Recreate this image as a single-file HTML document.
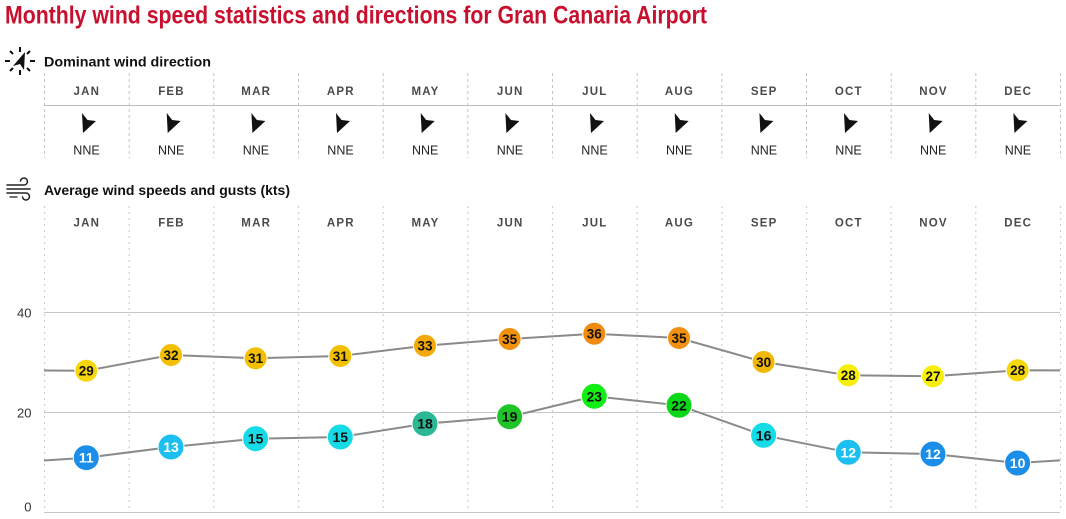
<!DOCTYPE html>
<html>
<head>
<meta charset="utf-8">
<style>
html,body{margin:0;padding:0;background:#fff;}
svg{display:block;}
text{font-family:"Liberation Sans",Arial,sans-serif;}
</style>
</head>
<body>
<svg width="1066" height="519" viewBox="0 0 1066 519" xmlns="http://www.w3.org/2000/svg">
<!-- Title -->
<text x="5" y="23.5" font-size="25" font-weight="bold" fill="#c8102e" textLength="702" lengthAdjust="spacingAndGlyphs">Monthly wind speed statistics and directions for Gran Canaria Airport</text>

<!-- compass icon -->
<g stroke="#111" stroke-width="2" stroke-linecap="butt">
<line x1="20" y1="47" x2="20" y2="52"/>
<line x1="20" y1="70" x2="20" y2="75"/>
<line x1="5" y1="61" x2="10" y2="61"/>
<line x1="30" y1="61" x2="35" y2="61"/>
<line x1="10" y1="51" x2="13" y2="54"/>
<line x1="27" y1="54" x2="30" y2="51"/>
<line x1="10" y1="71" x2="13" y2="68"/>
<line x1="27" y1="68" x2="30" y2="71"/>
</g>
<polygon points="25,52 24,70 20,64 13,66" fill="#111"/>
<text x="44" y="66.5" font-size="14" font-weight="bold" fill="#111" textLength="167" lengthAdjust="spacingAndGlyphs">Dominant wind direction</text>

<!-- wind icon -->
<g stroke="#222" stroke-width="1.5" fill="none" stroke-linecap="round">
<path d="M7,185 H24 A3.5,3.5 0 1 0 20.5,181"/>
<line x1="7" y1="189" x2="30" y2="189"/>
<path d="M7,193 H26 A3.5,3.5 0 1 1 22.5,197"/>
</g>
<g stroke="#222" stroke-width="1.3" fill="none" stroke-linecap="round">
<line x1="10" y1="197" x2="17" y2="197"/>
</g>
<text x="44" y="195" font-size="14" font-weight="bold" fill="#111" textLength="246" lengthAdjust="spacingAndGlyphs">Average wind speeds and gusts (kts)</text>

<!-- Top section grid -->
<g stroke="#c4c4c4" stroke-width="1" stroke-dasharray="3,3">
<line x1="44.5" y1="73" x2="44.5" y2="158"/>
<line x1="129.2" y1="73" x2="129.2" y2="158"/>
<line x1="213.8" y1="73" x2="213.8" y2="158"/>
<line x1="298.5" y1="73" x2="298.5" y2="158"/>
<line x1="383.2" y1="73" x2="383.2" y2="158"/>
<line x1="467.8" y1="73" x2="467.8" y2="158"/>
<line x1="552.5" y1="73" x2="552.5" y2="158"/>
<line x1="637.2" y1="73" x2="637.2" y2="158"/>
<line x1="721.8" y1="73" x2="721.8" y2="158"/>
<line x1="806.5" y1="73" x2="806.5" y2="158"/>
<line x1="891.2" y1="73" x2="891.2" y2="158"/>
<line x1="975.8" y1="73" x2="975.8" y2="158"/>
<line x1="1060.5" y1="73" x2="1060.5" y2="158"/>
</g>
<line x1="44" y1="105.5" x2="1060" y2="105.5" stroke="#bdbdbd" stroke-width="1"/>

<g font-size="11.5" font-weight="bold" fill="#4a4a4a" text-anchor="middle" letter-spacing="1.2">
<text x="86.8" y="95">JAN</text>
<text x="171.5" y="95">FEB</text>
<text x="256.2" y="95">MAR</text>
<text x="340.8" y="95">APR</text>
<text x="425.5" y="95">MAY</text>
<text x="510.2" y="95">JUN</text>
<text x="594.8" y="95">JUL</text>
<text x="679.5" y="95">AUG</text>
<text x="764.2" y="95">SEP</text>
<text x="848.8" y="95">OCT</text>
<text x="933.5" y="95">NOV</text>
<text x="1018.2" y="95">DEC</text>
</g>

<!-- arrows -->
<g fill="#111">
<polygon points="82,113 87.5,120 96,121 83,133"/>
<polygon points="166.7,113 172.2,120 180.7,121 167.7,133"/>
<polygon points="251.4,113 256.9,120 265.4,121 252.4,133"/>
<polygon points="336,113 341.5,120 350,121 337,133"/>
<polygon points="420.7,113 426.2,120 434.7,121 421.7,133"/>
<polygon points="505.4,113 510.9,120 519.4,121 506.4,133"/>
<polygon points="590,113 595.5,120 604,121 591,133"/>
<polygon points="674.7,113 680.2,120 688.7,121 675.7,133"/>
<polygon points="759.4,113 764.9,120 773.4,121 760.4,133"/>
<polygon points="844,113 849.5,120 858,121 845,133"/>
<polygon points="928.7,113 934.2,120 942.7,121 929.7,133"/>
<polygon points="1013.4,113 1018.9,120 1027.4,121 1014.4,133"/>
</g>
<g font-size="12.5" fill="#222" text-anchor="middle">
<text x="86.5" y="154.5">NNE</text>
<text x="171.2" y="154.5">NNE</text>
<text x="255.9" y="154.5">NNE</text>
<text x="340.5" y="154.5">NNE</text>
<text x="425.2" y="154.5">NNE</text>
<text x="509.9" y="154.5">NNE</text>
<text x="594.5" y="154.5">NNE</text>
<text x="679.2" y="154.5">NNE</text>
<text x="763.9" y="154.5">NNE</text>
<text x="848.5" y="154.5">NNE</text>
<text x="933.2" y="154.5">NNE</text>
<text x="1017.9" y="154.5">NNE</text>
</g>

<!-- Bottom chart grid -->
<g stroke="#cfcfcf" stroke-width="1.2" stroke-dasharray="2,4">
<line x1="44.5" y1="206" x2="44.5" y2="512"/>
<line x1="129.2" y1="206" x2="129.2" y2="512"/>
<line x1="213.8" y1="206" x2="213.8" y2="512"/>
<line x1="298.5" y1="206" x2="298.5" y2="512"/>
<line x1="383.2" y1="206" x2="383.2" y2="512"/>
<line x1="467.8" y1="206" x2="467.8" y2="512"/>
<line x1="552.5" y1="206" x2="552.5" y2="512"/>
<line x1="637.2" y1="206" x2="637.2" y2="512"/>
<line x1="721.8" y1="206" x2="721.8" y2="512"/>
<line x1="806.5" y1="206" x2="806.5" y2="512"/>
<line x1="891.2" y1="206" x2="891.2" y2="512"/>
<line x1="975.8" y1="206" x2="975.8" y2="512"/>
<line x1="1060.5" y1="206" x2="1060.5" y2="512"/>
</g>
<g stroke="#c8c8c8" stroke-width="1">
<line x1="44" y1="312.5" x2="1060" y2="312.5"/>
<line x1="44" y1="412.5" x2="1060" y2="412.5"/>
<line x1="44" y1="512.5" x2="1060" y2="512.5"/>
</g>
<g font-size="13" fill="#333" text-anchor="end">
<text x="31.5" y="317.5">40</text>
<text x="31.5" y="417.5">20</text>
<text x="31.5" y="511.5">0</text>
</g>

<g font-size="11.5" font-weight="bold" fill="#4a4a4a" text-anchor="middle" letter-spacing="1.2">
<text x="86.8" y="226.5">JAN</text>
<text x="171.5" y="226.5">FEB</text>
<text x="256.2" y="226.5">MAR</text>
<text x="340.8" y="226.5">APR</text>
<text x="425.5" y="226.5">MAY</text>
<text x="510.2" y="226.5">JUN</text>
<text x="594.8" y="226.5">JUL</text>
<text x="679.5" y="226.5">AUG</text>
<text x="764.2" y="226.5">SEP</text>
<text x="848.8" y="226.5">OCT</text>
<text x="933.5" y="226.5">NOV</text>
<text x="1018.2" y="226.5">DEC</text>
</g>

<!-- lines -->
<polyline fill="none" stroke="#8a8a8a" stroke-width="2" points="44,370.5 86.3,370.7 171,355 255.6,358.3 340.3,356 425,345.7 509.6,339 594.3,333.7 679,338 763.6,362 848.3,375.3 933,376.3 1017.6,370.3 1060,370.4"/>
<polyline fill="none" stroke="#8a8a8a" stroke-width="2" points="44,460.5 86.3,457.7 171,447 255.6,438.7 340.3,437 425,423.7 509.6,416.7 594.3,396.3 679,405.3 763.6,435.3 848.3,452.3 933,454 1017.6,463 1060,460.4"/>

<!-- gust circles -->
<g stroke="#fff" stroke-width="1">
<circle cx="86.3" cy="370.7" r="11.5" fill="#f6d70c"/>
<circle cx="171" cy="355" r="11.5" fill="#f2c000"/>
<circle cx="255.6" cy="358.3" r="11.5" fill="#f2c000"/>
<circle cx="340.3" cy="356" r="11.5" fill="#f2c000"/>
<circle cx="425" cy="345.7" r="11.5" fill="#f5a80a"/>
<circle cx="509.6" cy="339" r="11.5" fill="#f29010"/>
<circle cx="594.3" cy="333.7" r="11.5" fill="#f08a10"/>
<circle cx="679" cy="338" r="11.5" fill="#f29010"/>
<circle cx="763.6" cy="362" r="11.5" fill="#f2b808"/>
<circle cx="848.3" cy="375.3" r="11.5" fill="#f8ef08"/>
<circle cx="933" cy="376.3" r="11.5" fill="#f8ef08"/>
<circle cx="1017.6" cy="370.3" r="11.5" fill="#f6d70c"/>
</g>
<g font-size="13.5" font-weight="bold" fill="#111" text-anchor="middle">
<text x="86.3" y="375.6">29</text>
<text x="171" y="359.9">32</text>
<text x="255.6" y="363.2">31</text>
<text x="340.3" y="360.9">31</text>
<text x="425" y="350.6">33</text>
<text x="509.6" y="343.9">35</text>
<text x="594.3" y="338.6">36</text>
<text x="679" y="342.9">35</text>
<text x="763.6" y="366.9">30</text>
<text x="848.3" y="380.2">28</text>
<text x="933" y="381.2">27</text>
<text x="1017.6" y="375.2">28</text>
</g>

<!-- avg circles -->
<g stroke="#fff" stroke-width="1">
<circle cx="86.3" cy="457.7" r="13" fill="#1a8ee8"/>
<circle cx="171" cy="447" r="13" fill="#1cc0f0"/>
<circle cx="255.6" cy="438.7" r="13" fill="#14dbe6"/>
<circle cx="340.3" cy="437" r="13" fill="#14dbe6"/>
<circle cx="425" cy="423.7" r="13" fill="#2cb894"/>
<circle cx="509.6" cy="416.7" r="13" fill="#1ec428"/>
<circle cx="594.3" cy="396.3" r="13" fill="#10ee14"/>
<circle cx="679" cy="405.3" r="13" fill="#0cd81a"/>
<circle cx="763.6" cy="435.3" r="13" fill="#14dbe6"/>
<circle cx="848.3" cy="452.3" r="13" fill="#1cc0f0"/>
<circle cx="933" cy="454" r="13" fill="#1a8ee8"/>
<circle cx="1017.6" cy="463" r="13" fill="#1a8ee8"/>
</g>
<g font-size="14" font-weight="bold" text-anchor="middle">
<text x="86.3" y="462.7" fill="#fff">11</text>
<text x="171" y="452" fill="#fff">13</text>
<text x="255.6" y="443.7" fill="#111">15</text>
<text x="340.3" y="442" fill="#111">15</text>
<text x="425" y="428.7" fill="#111">18</text>
<text x="509.6" y="421.7" fill="#111">19</text>
<text x="594.3" y="401.3" fill="#111">23</text>
<text x="679" y="410.3" fill="#111">22</text>
<text x="763.6" y="440.3" fill="#111">16</text>
<text x="848.3" y="457.3" fill="#fff">12</text>
<text x="933" y="459" fill="#fff">12</text>
<text x="1017.6" y="468" fill="#fff">10</text>
</g>
</svg>
</body>
</html>
